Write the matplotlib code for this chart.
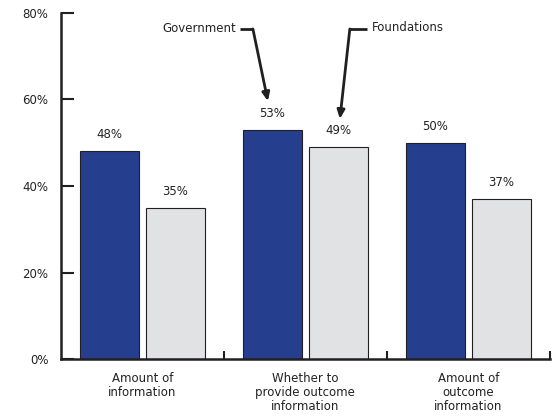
import numpy as np
from matplotlib import pyplot as plt

categories = ['Amount of\ninformation',
              'Whether to\nprovide outcome\ninformation',
              'Amount of\noutcome\ninformation']
government = [48, 53, 50]
foundations = [35, 49, 37]
yticks = [0, 20, 40, 60, 80]

blue = '#253F8E'
grey = '#E1E2E4'
ink = '#231F20'

plt.rcParams['font.family'] = 'DejaVu Sans'
fig = plt.figure(figsize=(5.56, 4.17), dpi=100)
ax = fig.add_axes([0.1097, 0.139, 0.879, 0.83])

# each group sits in a unit-wide slot, separators at 1, 2, 3
x = np.arange(len(categories))
w = 0.362
b1 = ax.bar(x + 0.298, government, w, color=blue, edgecolor=ink, lw=0.8)
b2 = ax.bar(x + 0.702, foundations, w, color=grey, edgecolor=ink, lw=0.8)

for bars, vals in [(b1, government), (b2, foundations)]:
    for b, v in zip(bars, vals):
        ax.text(b.get_x() + b.get_width() / 2, v + 2.3, f'{v}%',
                ha='center', va='bottom', fontsize=8.5, color='#222')

ax.set_xlim(0, 3)
ax.set_ylim(0, 80)
ax.set_yticks(yticks)
ax.set_yticklabels([f'{t}%' for t in yticks], fontsize=8.5, color='#222')
ax.tick_params(axis='y', direction='in', length=9, width=1.5, color=ink, pad=9)
ax.set_xticks([1, 2, 3])
ax.set_xticklabels([])
ax.tick_params(axis='x', direction='in', length=6, width=1.5, color=ink)

for i, c in enumerate(categories):
    ax.text(i + 0.5, -2.9, c, ha='center', va='top', fontsize=8.5,
            color='#222', linespacing=1.12)

for s in ['top', 'right']:
    ax.spines[s].set_visible(False)
for s in ['left', 'bottom']:
    ax.spines[s].set_linewidth(1.8)
    ax.spines[s].set_color(ink)

# callout arrows naming the two series
ax.text(1.074, 76.3, 'Government', ha='right', va='center', fontsize=8.5, color='#222')
ax.plot([1.098, 1.178], [76.3, 76.3], color=ink, lw=2, solid_capstyle='butt')
ax.annotate('', xy=(1.27, 59.6), xytext=(1.178, 76.3),
            arrowprops=dict(arrowstyle='-|>,head_length=0.5,head_width=0.22',
                            color=ink, lw=2, shrinkA=0, shrinkB=0))

ax.text(1.908, 76.7, 'Foundations', ha='left', va='center', fontsize=8.5, color='#222')
ax.plot([1.877, 1.773], [76.3, 76.3], color=ink, lw=2, solid_capstyle='butt')
ax.annotate('', xy=(1.712, 55.5), xytext=(1.773, 76.3),
            arrowprops=dict(arrowstyle='-|>,head_length=0.5,head_width=0.22',
                            color=ink, lw=2, shrinkA=0, shrinkB=0))

plt.savefig('out.png', dpi=100)
